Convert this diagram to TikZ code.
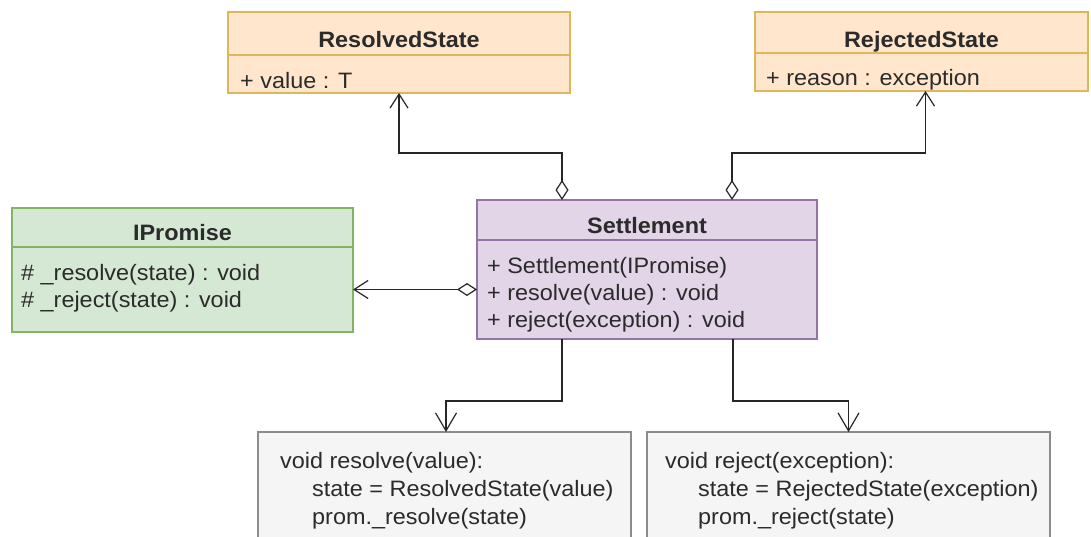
\documentclass[tikz,border=0pt]{standalone}
\usepackage{fontspec}
\setmainfont{Liberation Sans}[FakeStretch=1.05]
\usetikzlibrary{arrows.meta,calc}

\definecolor{orangefill}{HTML}{FFE6CC}
\definecolor{orangeline}{HTML}{DDB85A}
\definecolor{greenfill}{HTML}{D5E8D4}
\definecolor{greenline}{HTML}{82B366}
\definecolor{purplefill}{HTML}{E1D5E7}
\definecolor{purpleline}{HTML}{9673A6}
\definecolor{notefill}{HTML}{F5F5F5}
\definecolor{noteline}{HTML}{8C8C8C}
\definecolor{ink}{HTML}{2B2B2B}
\definecolor{wirecol}{HTML}{262626}

\newcommand{\umlfont}{\fontsize{22.3}{27}\selectfont}

\begin{document}
\begin{tikzpicture}[x=1pt,y=-1pt,
  classbox/.style={draw, rectangle, line width=1.3pt, inner sep=0pt, outer sep=0pt},
  statebox/.style={classbox, fill=orangefill, draw=orangeline},
  ifacebox/.style={classbox, fill=greenfill, draw=greenline},
  mainbox/.style={classbox, fill=purplefill, draw=purpleline},
  notebox/.style={classbox, fill=notefill, draw=noteline, line width=1.1pt},
  title/.style={anchor=base, inner sep=0pt, text=ink, font=\umlfont\bfseries},
  member/.style={anchor=base west, inner sep=0pt, text=ink, font=\umlfont},
  wire/.style={draw=wirecol, line width=1.8pt},
  agg/.style={wire, {Diamond[length=20pt,width=13pt,fill=white,line width=1.2pt]}-{Straight Barb[length=14pt,width=18pt,line width=1.2pt]}},
  flow/.style={wire, -{Straight Barb[length=18pt,width=21pt,line width=1.2pt]}}
]
\useasboundingbox (0,0) rectangle (1091,536);
\clip (0,0) rectangle (1091,536);

% ResolvedState
\node[statebox, minimum width=342pt, minimum height=81pt] (rs) at (399,52.5) {};
\draw[orangeline, line width=1.3pt] (rs.west |- 0,55) -- (rs.east |- 0,55);
\node[title] (rsT) at (399,47) {ResolvedState};
\node[member] (rsA) at (240,88) {+ value : T};

% RejectedState
\node[statebox, minimum width=333pt, minimum height=79pt] (rj) at (921.5,51.5) {};
\draw[orangeline, line width=1.3pt] (rj.west |- 0,53) -- (rj.east |- 0,53);
\node[title] (rjT) at (921.5,47) {RejectedState};
\node[member] (rjA) at (766,85) {+ reason : exception};

% IPromise
\node[ifacebox, minimum width=341pt, minimum height=124pt] (ip) at (182.5,270) {};
\draw[greenline, line width=1.3pt] (ip.west |- 0,247) -- (ip.east |- 0,247);
\node[title] (ipT) at (182.5,240) {IPromise};
\node[member] (ipA) at (21,280) {\# \_resolve(state) : void};
\node[member] (ipB) at (21,307) {\# \_reject(state) : void};

% Settlement
\node[mainbox, minimum width=340pt, minimum height=139pt] (st) at (647,269.5) {};
\draw[purpleline, line width=1.3pt] (st.west |- 0,240) -- (st.east |- 0,240);
\node[title] (stT) at (647,233) {Settlement};
\node[member] (stA) at (487,273) {+ Settlement(IPromise)};
\node[member] (stB) at (487,300) {+ resolve(value) : void};
\node[member] (stC) at (487,327) {+ reject(exception) : void};

% pseudo-code notes
\node[notebox, minimum width=373pt, minimum height=140pt] (nr) at (444.5,502) {};
\node[member] (nrA) at (280,468) {void resolve(value):};
\node[member] (nrB) at (312,496) {state = ResolvedState(value)};
\node[member] (nrC) at (312,524) {prom.\_resolve(state)};

\node[notebox, minimum width=403pt, minimum height=140pt] (nj) at (848.5,502) {};
\node[member] (njA) at (665,468) {void reject(exception):};
\node[member] (njB) at (698,496) {state = RejectedState(exception)};
\node[member] (njC) at (698,524) {prom.\_reject(state)};

% associations
\coordinate (stRs) at ($(st.north west)+(85,0)$);
\coordinate (stRj) at ($(st.north west)+(255,0)$);
\coordinate (stIp) at ($(st.west)+(0,20)$);
\coordinate (stNr) at ($(st.south west)+(85,0)$);
\coordinate (stNj) at ($(st.south west)+(256,0)$);

\draw[agg] (stRs) |- ($(rs.south)+(0,60)$) -- (rs.south);
\draw[agg] (stRj) |- ($(rj.south)+(4,62)$) -- ($(rj.south)+(4,0)$);
\draw[agg] (stIp) -- (stIp -| ip.east);
\draw[flow] (stNr) |- ($(nr.north)+(1.5,-31)$) -- ($(nr.north)+(1.5,0)$);
\draw[flow] (stNj) |- ($(nj.north)+(0,-31)$) -- (nj.north);
\end{tikzpicture}
\end{document}
